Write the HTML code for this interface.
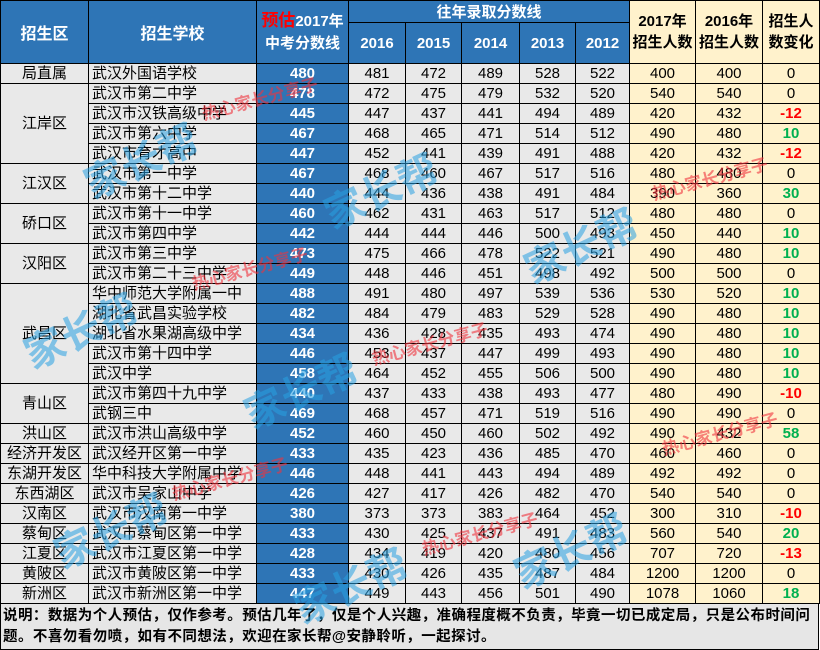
<!DOCTYPE html>
<html><head><meta charset="utf-8"><style>
body{margin:0;width:820px;height:650px;overflow:hidden;background:#fff;position:relative;font-family:"Liberation Sans","Noto Sans CJK SC",sans-serif;}
table{border-collapse:collapse;table-layout:fixed;width:819px;position:absolute;left:0;top:0;}
td{border:1px solid #000;padding:0;text-align:center;font-size:15px;color:#000;white-space:nowrap;overflow:hidden;}
tr.d{height:20px;}
tr.d td{height:19px;line-height:17px;background:#e9e9e9;}
tr.d td.s{text-align:left;padding-left:3px;}
tr.d td.e{background:#2e75b6;color:#fff;font-weight:bold;}
tr.d td.y{background:#fff2cc;}
td.h{background:#2e75b6;color:#fff;font-weight:bold;}
td.hy{background:#fff2cc;font-weight:bold;line-height:21px;}
.r{color:#f00;font-weight:bold;} .g{color:#00b050;font-weight:bold;}
.foot{position:absolute;left:0;top:603px;height:47px;background:#e6e6e6;border:1px solid #000;font-weight:bold;font-size:14.5px;line-height:21px;padding:2px 0 0 2px;box-sizing:border-box;width:819px;letter-spacing:0.45px;}
.wm{position:absolute;font-weight:bold;pointer-events:none;}
.b{color:rgba(40,160,225,.55);font-size:40px;}
.rd{color:rgba(240,50,60,.6);font-size:17px;}
</style></head><body>
<table>
<colgroup><col style="width:88px"><col style="width:168px"><col style="width:92px"><col style="width:57px"><col style="width:56px"><col style="width:58px"><col style="width:56px"><col style="width:54px"><col style="width:66px"><col style="width:67px"><col style="width:57px"></colgroup>
<tr style="height:22px"><td class="h" rowspan="2" style="font-size:16px">招生区</td><td class="h" rowspan="2" style="font-size:16px">招生学校</td><td class="h" rowspan="2" style="line-height:22px"><span style="color:#f00;font-size:17px">预估</span>2017年<br>中考分数线</td><td class="h" colspan="5" style="height:21px">往年录取分数线</td><td class="hy" rowspan="2">2017年<br>招生人数</td><td class="hy" rowspan="2">2016年<br>招生人数</td><td class="hy" rowspan="2">招生人<br>数变化</td></tr>
<tr style="height:41px"><td class="h" style="height:40px">2016</td><td class="h">2015</td><td class="h">2014</td><td class="h">2013</td><td class="h">2012</td></tr>
<tr class="d"><td>局直属</td><td class="s">武汉外国语学校</td><td class="e">480</td><td>481</td><td>472</td><td>489</td><td>528</td><td>522</td><td class="y">400</td><td class="y">400</td><td class="y">0</td></tr>
<tr class="d"><td rowspan="4">江岸区</td><td class="s">武汉市第二中学</td><td class="e">478</td><td>472</td><td>475</td><td>479</td><td>532</td><td>520</td><td class="y">540</td><td class="y">540</td><td class="y">0</td></tr>
<tr class="d"><td class="s">武汉市汉铁高级中学</td><td class="e">445</td><td>447</td><td>437</td><td>441</td><td>494</td><td>489</td><td class="y">420</td><td class="y">432</td><td class="y r">-12</td></tr>
<tr class="d"><td class="s">武汉市第六中学</td><td class="e">467</td><td>468</td><td>465</td><td>471</td><td>514</td><td>512</td><td class="y">490</td><td class="y">480</td><td class="y g">10</td></tr>
<tr class="d"><td class="s">武汉市育才高中</td><td class="e">447</td><td>452</td><td>441</td><td>439</td><td>491</td><td>488</td><td class="y">420</td><td class="y">432</td><td class="y r">-12</td></tr>
<tr class="d"><td rowspan="2">江汉区</td><td class="s">武汉市第一中学</td><td class="e">467</td><td>468</td><td>460</td><td>467</td><td>517</td><td>516</td><td class="y">480</td><td class="y">480</td><td class="y">0</td></tr>
<tr class="d"><td class="s">武汉市第十二中学</td><td class="e">440</td><td>444</td><td>436</td><td>438</td><td>491</td><td>484</td><td class="y">390</td><td class="y">360</td><td class="y g">30</td></tr>
<tr class="d"><td rowspan="2">硚口区</td><td class="s">武汉市第十一中学</td><td class="e">460</td><td>462</td><td>431</td><td>463</td><td>517</td><td>512</td><td class="y">480</td><td class="y">480</td><td class="y">0</td></tr>
<tr class="d"><td class="s">武汉市第四中学</td><td class="e">442</td><td>444</td><td>444</td><td>446</td><td>500</td><td>493</td><td class="y">450</td><td class="y">440</td><td class="y g">10</td></tr>
<tr class="d"><td rowspan="2">汉阳区</td><td class="s">武汉市第三中学</td><td class="e">473</td><td>475</td><td>466</td><td>478</td><td>522</td><td>521</td><td class="y">490</td><td class="y">480</td><td class="y g">10</td></tr>
<tr class="d"><td class="s">武汉市第二十三中学</td><td class="e">449</td><td>448</td><td>446</td><td>451</td><td>498</td><td>492</td><td class="y">500</td><td class="y">500</td><td class="y">0</td></tr>
<tr class="d"><td rowspan="5">武昌区</td><td class="s">华中师范大学附属一中</td><td class="e">488</td><td>491</td><td>480</td><td>497</td><td>539</td><td>536</td><td class="y">530</td><td class="y">520</td><td class="y g">10</td></tr>
<tr class="d"><td class="s">湖北省武昌实验学校</td><td class="e">482</td><td>484</td><td>479</td><td>483</td><td>529</td><td>528</td><td class="y">490</td><td class="y">480</td><td class="y g">10</td></tr>
<tr class="d"><td class="s">湖北省水果湖高级中学</td><td class="e">434</td><td>436</td><td>428</td><td>435</td><td>493</td><td>474</td><td class="y">490</td><td class="y">480</td><td class="y g">10</td></tr>
<tr class="d"><td class="s">武汉市第十四中学</td><td class="e">446</td><td>453</td><td>437</td><td>447</td><td>499</td><td>493</td><td class="y">490</td><td class="y">480</td><td class="y g">10</td></tr>
<tr class="d"><td class="s">武汉中学</td><td class="e">458</td><td>464</td><td>452</td><td>455</td><td>506</td><td>500</td><td class="y">490</td><td class="y">480</td><td class="y g">10</td></tr>
<tr class="d"><td rowspan="2">青山区</td><td class="s">武汉市第四十九中学</td><td class="e">440</td><td>437</td><td>433</td><td>438</td><td>493</td><td>477</td><td class="y">480</td><td class="y">490</td><td class="y r">-10</td></tr>
<tr class="d"><td class="s">武钢三中</td><td class="e">469</td><td>468</td><td>457</td><td>471</td><td>519</td><td>516</td><td class="y">490</td><td class="y">490</td><td class="y">0</td></tr>
<tr class="d"><td>洪山区</td><td class="s">武汉市洪山高级中学</td><td class="e">452</td><td>460</td><td>450</td><td>460</td><td>502</td><td>492</td><td class="y">490</td><td class="y">432</td><td class="y g">58</td></tr>
<tr class="d"><td>经济开发区</td><td class="s">武汉经开区第一中学</td><td class="e">433</td><td>435</td><td>423</td><td>436</td><td>485</td><td>470</td><td class="y">460</td><td class="y">460</td><td class="y">0</td></tr>
<tr class="d"><td>东湖开发区</td><td class="s">华中科技大学附属中学</td><td class="e">446</td><td>448</td><td>441</td><td>443</td><td>494</td><td>489</td><td class="y">492</td><td class="y">492</td><td class="y">0</td></tr>
<tr class="d"><td>东西湖区</td><td class="s">武汉市吴家山中学</td><td class="e">426</td><td>427</td><td>417</td><td>426</td><td>482</td><td>470</td><td class="y">540</td><td class="y">540</td><td class="y">0</td></tr>
<tr class="d"><td>汉南区</td><td class="s">武汉市汉南第一中学</td><td class="e">380</td><td>373</td><td>373</td><td>383</td><td>464</td><td>452</td><td class="y">300</td><td class="y">310</td><td class="y r">-10</td></tr>
<tr class="d"><td>蔡甸区</td><td class="s">武汉市蔡甸区第一中学</td><td class="e">433</td><td>430</td><td>425</td><td>437</td><td>491</td><td>483</td><td class="y">560</td><td class="y">540</td><td class="y g">20</td></tr>
<tr class="d"><td>江夏区</td><td class="s">武汉市江夏区第一中学</td><td class="e">428</td><td>434</td><td>419</td><td>420</td><td>480</td><td>456</td><td class="y">707</td><td class="y">720</td><td class="y r">-13</td></tr>
<tr class="d"><td>黄陂区</td><td class="s">武汉市黄陂区第一中学</td><td class="e">433</td><td>430</td><td>426</td><td>435</td><td>487</td><td>484</td><td class="y">1200</td><td class="y">1200</td><td class="y">0</td></tr>
<tr class="d"><td>新洲区</td><td class="s">武汉市新洲区第一中学</td><td class="e">447</td><td>449</td><td>443</td><td>456</td><td>501</td><td>490</td><td class="y">1078</td><td class="y">1060</td><td class="y g">18</td></tr>
</table>
<div class="foot">说明：数据为个人预估，仅作参考。预估几年了，仅是个人兴趣，准确程度概不负责，毕竟一切已成定局，只是公布时间问题。不喜勿看勿喷，如有不同想法，欢迎在家长帮@安静聆听，一起探讨。</div>
<div class="wm b" style="left:80px;top:130px;transform:rotate(-25deg)">家长帮</div>
<div class="wm b" style="left:320px;top:160px;transform:rotate(-25deg)">家长帮</div>
<div class="wm b" style="left:520px;top:215px;transform:rotate(-25deg)">家长帮</div>
<div class="wm b" style="left:20px;top:300px;transform:rotate(-25deg)">家长帮</div>
<div class="wm b" style="left:240px;top:360px;transform:rotate(-25deg)">家长帮</div>
<div class="wm b" style="left:510px;top:520px;transform:rotate(-25deg)">家长帮</div>
<div class="wm b" style="left:50px;top:500px;transform:rotate(-25deg)">家长帮</div>
<div class="wm b" style="left:290px;top:555px;transform:rotate(-25deg)">家长帮</div>
<div class="wm rd" style="left:200px;top:85px;transform:rotate(-15deg)">热心家长分享子</div>
<div class="wm rd" style="left:650px;top:165px;transform:rotate(-15deg)">热心家长分享子</div>
<div class="wm rd" style="left:190px;top:255px;transform:rotate(-15deg)">热心家长分享子</div>
<div class="wm rd" style="left:370px;top:330px;transform:rotate(-15deg)">热心家长分享子</div>
<div class="wm rd" style="left:660px;top:420px;transform:rotate(-15deg)">热心家长分享子</div>
<div class="wm rd" style="left:170px;top:465px;transform:rotate(-15deg)">热心家长分享子</div>
<div class="wm rd" style="left:420px;top:520px;transform:rotate(-15deg)">热心家长分享子</div>
</body></html>
